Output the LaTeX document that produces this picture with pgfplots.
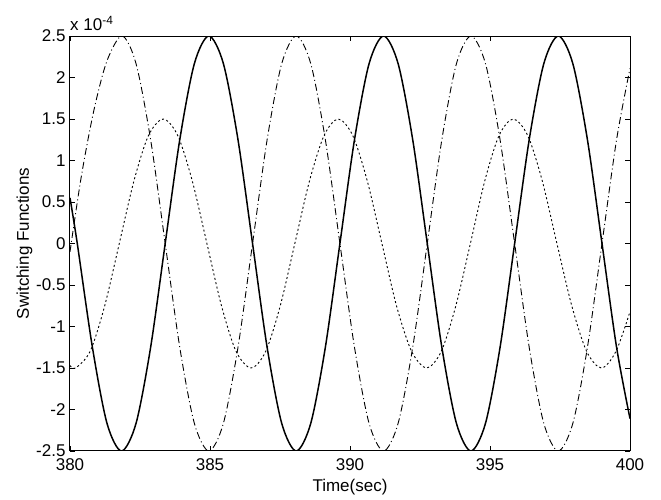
\documentclass[border=0pt]{standalone}
\usepackage{fontspec}
\setmainfont{Liberation Sans}
\usepackage{pgfplots}
\pgfplotsset{compat=1.18}

% values in units of 1e-4
\begin{document}
\begin{tikzpicture}
\path[use as bounding box] (-70pt,-49pt) rectangle (591pt,451pt);
\begin{axis}[
  at={(0pt,0pt)}, anchor=south west,
  scale only axis, width=560pt, height=415pt,
  xmin=380, xmax=400, ymin=-2.5, ymax=2.5,
  xtick={380,385,390,395,400},
  ytick={-2.5,-2,-1.5,-1,-0.5,0,0.5,1,1.5,2,2.5},
  tick align=inside, major tick length=5pt,
  tick style={black, line width=0.8pt},
  axis line style={line width=1pt},
  ticklabel style={font=\fontsize{17}{19}\selectfont},
  xticklabel style={yshift=-4pt},
  yticklabel style={xshift=-1pt},
  /pgf/number format/assume math mode=true,
  xlabel={Time(sec)}, ylabel={Switching Functions},
  label style={font=\fontsize{17}{19}\selectfont},
  xlabel style={yshift=-2pt}, ylabel style={yshift=-3pt},
  clip mode=individual,
]
% solid
\addplot[black, line width=1.5pt, smooth] coordinates {
(380.00,0.55)(380.26,0)(380.80,-1.25)(381.32,-2.165)(381.84,-2.5)(382.36,-2.165)
(382.88,-1.25)(383.40,0)(383.92,1.25)(384.44,2.165)(384.96,2.5)(385.48,2.165)
(386.00,1.25)(386.52,0)(387.04,-1.25)(387.56,-2.165)(388.08,-2.5)(388.60,-2.165)
(389.12,-1.25)(389.64,0)(390.16,1.25)(390.68,2.165)(391.20,2.5)(391.72,2.165)
(392.24,1.25)(392.76,0)(393.28,-1.25)(393.80,-2.165)(394.32,-2.5)(394.84,-2.165)
(395.36,-1.25)(395.88,0)(396.40,1.25)(396.92,2.165)(397.44,2.5)(397.96,2.165)
(398.48,1.25)(399.00,0)(399.52,-1.25)(400.00,-2.11)};
% dash-dot
\addplot[black, line width=0.9pt, smooth, dash pattern=on 7pt off 3pt on 1pt off 3pt] coordinates {
(380.00,-0.10)(380.40,0.80)(380.85,1.60)(381.32,2.20)(381.86,2.5)(382.36,2.165)
(382.88,1.25)(383.40,0)(383.92,-1.25)(384.44,-2.165)(384.96,-2.5)(385.48,-2.165)
(386.00,-1.25)(386.52,0)(387.04,1.25)(387.56,2.165)(388.08,2.5)(388.60,2.165)
(389.12,1.25)(389.64,0)(390.16,-1.25)(390.68,-2.165)(391.20,-2.5)(391.72,-2.165)
(392.24,-1.25)(392.76,0)(393.28,1.25)(393.80,2.165)(394.32,2.5)(394.84,2.165)
(395.36,1.25)(395.88,0)(396.40,-1.25)(396.92,-2.165)(397.44,-2.5)(397.96,-2.165)
(398.48,-1.25)(399.00,0)(399.52,1.25)(400.00,2.11)};
% dotted, amplitude 1.5
\addplot[black, line width=0.9pt, smooth, dash pattern=on 2pt off 2.5pt] coordinates {
(380.00,-1.47)(380.20,-1.5)(380.72,-1.299)(381.24,-0.75)(381.76,0)(382.28,0.75)
(382.80,1.299)(383.33,1.5)(383.85,1.299)(384.37,0.75)(384.89,0)(385.41,-0.75)
(385.93,-1.299)(386.47,-1.5)(386.99,-1.299)(387.51,-0.75)(388.03,0)(388.55,0.75)
(389.07,1.299)(389.58,1.5)(390.10,1.299)(390.62,0.75)(391.14,0)(391.66,-0.75)
(392.20,-1.299)(392.74,-1.5)(393.26,-1.299)(393.78,-0.75)(394.30,0)(394.81,0.75)
(395.32,1.299)(395.83,1.5)(396.35,1.299)(396.87,0.75)(397.39,0)(397.92,-0.75)
(398.45,-1.299)(398.98,-1.5)(399.50,-1.299)(400.00,-0.82)};
\node[anchor=south west, inner sep=0pt, font=\fontsize{17}{19}\selectfont]
  at (rel axis cs:0,1) [yshift=5pt] {x 10\textsuperscript{-4}};
\end{axis}
\end{tikzpicture}
\end{document}
